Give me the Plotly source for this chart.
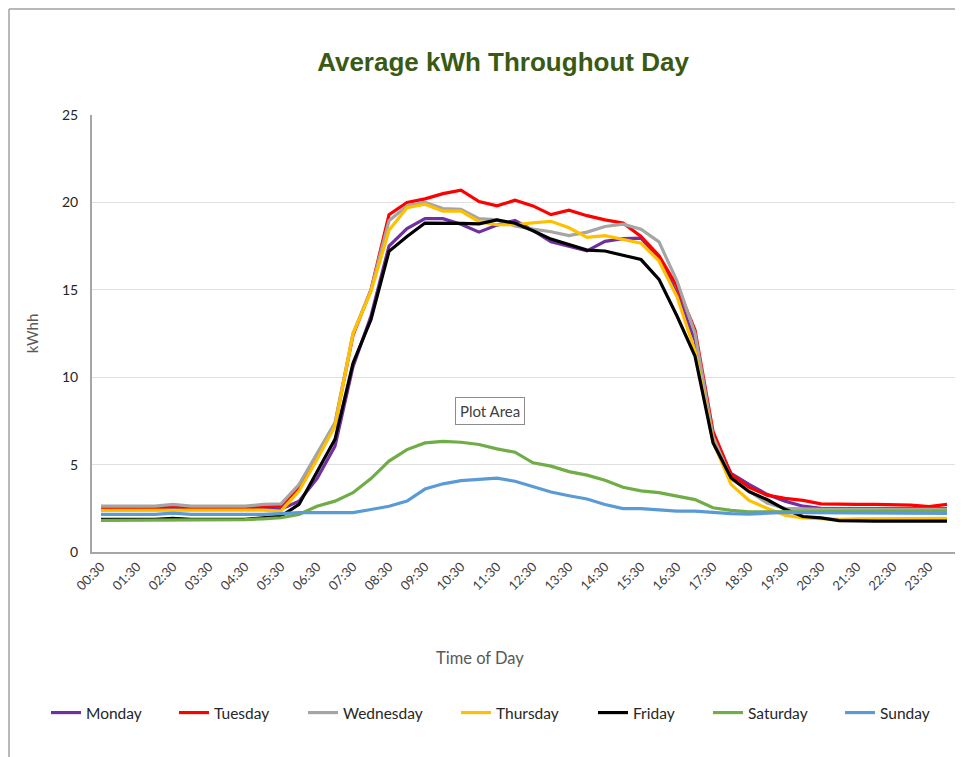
import plotly.graph_objects as go

times = ["00:30","01:00","01:30","02:00","02:30","03:00","03:30","04:00","04:30","05:00",
         "05:30","06:00","06:30","07:00","07:30","08:00","08:30","09:00","09:30","10:00",
         "10:30","11:00","11:30","12:00","12:30","13:00","13:30","14:00","14:30","15:00",
         "15:30","16:00","16:30","17:00","17:30","18:00","18:30","19:00","19:30","20:00",
         "20:30","21:00","21:30","22:00","22:30","23:00","23:30","24:00"]

tick_labels = times[0::2]

monday = [2.45,2.45,2.45,2.45,2.55,2.45,2.45,2.45,2.45,2.5,
          2.45,2.9,4.2,6.05,10.6,13.5,17.5,18.5,19.07,19.07,
          18.75,18.3,18.7,18.97,18.4,17.75,17.5,17.23,17.77,17.93,
          17.95,16.8,14.8,12.1,6.5,4.5,3.87,3.3,2.91,2.62,
          2.5,2.48,2.48,2.48,2.48,2.48,2.48,2.48]
tuesday = [2.53,2.53,2.53,2.53,2.62,2.53,2.53,2.53,2.53,2.6,
           2.62,3.7,5.5,7.3,12.4,15.0,19.3,20.0,20.2,20.5,
           20.7,20.05,19.8,20.12,19.8,19.3,19.55,19.24,19.0,18.82,
           18.05,16.95,15.2,12.7,6.9,4.45,3.7,3.25,3.07,2.95,
           2.75,2.72,2.72,2.72,2.72,2.68,2.6,2.72]
wednesday = [2.62,2.62,2.62,2.62,2.72,2.62,2.62,2.62,2.62,2.72,
             2.75,3.86,5.6,7.4,12.5,15.0,18.95,19.8,20.0,19.65,
             19.6,19.07,19.0,18.65,18.47,18.32,18.1,18.3,18.62,18.75,
             18.47,17.74,15.5,12.5,6.6,4.2,3.5,2.8,2.5,2.45,
             2.44,2.44,2.44,2.44,2.44,2.44,2.44,2.44]
thursday = [2.38,2.38,2.38,2.38,2.42,2.38,2.38,2.38,2.38,2.4,
            2.34,3.48,5.29,7.19,12.5,14.9,18.4,19.7,19.9,19.5,
            19.5,18.9,18.72,18.72,18.83,18.92,18.55,18.0,18.1,17.88,
            17.67,16.65,14.6,11.5,6.3,3.87,2.95,2.5,2.1,1.95,
            1.9,1.87,1.9,1.9,1.9,1.9,1.9,1.92]
friday = [1.87,1.87,1.87,1.87,1.92,1.87,1.87,1.87,1.87,1.95,
          2.05,2.72,4.55,6.45,10.8,13.3,17.2,18.05,18.82,18.82,
          18.8,18.77,19.0,18.81,18.38,17.9,17.58,17.27,17.22,16.98,
          16.73,15.6,13.5,11.2,6.25,4.25,3.45,3.0,2.44,2.03,
          1.95,1.8,1.77,1.77,1.77,1.77,1.77,1.77]
saturday = [1.81,1.81,1.81,1.81,1.81,1.81,1.81,1.81,1.85,1.9,
            1.96,2.15,2.62,2.91,3.39,4.2,5.2,5.86,6.24,6.33,
            6.28,6.15,5.9,5.71,5.1,4.91,4.6,4.4,4.1,3.7,
            3.5,3.4,3.2,3.0,2.53,2.38,2.3,2.3,2.3,2.3,
            2.32,2.32,2.32,2.32,2.34,2.34,2.34,2.34]
sunday = [2.15,2.15,2.15,2.15,2.22,2.15,2.15,2.15,2.15,2.15,
          2.2,2.25,2.25,2.25,2.25,2.43,2.62,2.91,3.6,3.9,
          4.08,4.15,4.22,4.05,3.72,3.43,3.22,3.03,2.72,2.48,
          2.48,2.4,2.34,2.34,2.25,2.19,2.17,2.2,2.27,2.25,
          2.25,2.25,2.25,2.25,2.25,2.25,2.22,2.21]

series = [
    ("Monday", monday, "#7030A0"),
    ("Tuesday", tuesday, "#FF0000"),
    ("Wednesday", wednesday, "#A5A5A5"),
    ("Thursday", thursday, "#FFC000"),
    ("Friday", friday, "#000000"),
    ("Saturday", saturday, "#70AD47"),
    ("Sunday", sunday, "#5B9BD5"),
]

# window-pixel geometry of the plot area (page has an 8px body margin)
PL, PR, PT, PB = 92, 956, 115, 552
PW, PH = PR - PL, PB - PT


def px(x):
    return (x - PL) / PW


def py(y):
    return (PB - y) / PH


legend_text_x = [88, 216, 345, 498, 635, 750, 882]

fig = go.Figure()
layout_legends = {}
for k, (name, vals, col) in enumerate(series):
    key = "legend" if k == 0 else f"legend{k + 1}"
    fig.add_trace(go.Scatter(x=times, y=vals, mode="lines", name=name,
                             line=dict(color=col, width=3.2), legend=key))
    layout_legends[key] = dict(x=px(legend_text_x[k] - 42), xanchor="left",
                               y=py(713), yanchor="middle",
                               font=dict(size=15.5, color="#262626"),
                               bgcolor="rgba(0,0,0,0)", borderwidth=0)

fig.update_layout(
    width=955, height=749,
    paper_bgcolor="white", plot_bgcolor="white",
    margin=dict(l=PL - 8, r=955 - (PR - 8), t=PT - 8, b=749 - (PB - 8)),
    font=dict(family="Lato, sans-serif", color="#404040"),
    title=dict(text="<b>Average kWh Throughout Day</b>", x=(503 - 8) / 955, xanchor="center",
               y=1 - (62 - 8) / 749, yanchor="middle",
               font=dict(family="Liberation Sans, Arial, sans-serif", size=26, color="#3A5A14")),
    showlegend=True,
    xaxis=dict(type="category", range=[-0.5, 47.5], tickmode="array",
               tickvals=tick_labels, ticktext=tick_labels, tickangle=-45,
               tickfont=dict(size=13, color="#404040"), showgrid=False,
               showline=True, linecolor="#A6A6A6", linewidth=2, ticks=""),
    yaxis=dict(range=[0, 25], dtick=5, tickfont=dict(size=14, color="#262626"),
               showgrid=True, gridcolor="#E0E0E0", gridwidth=1,
               showline=True, linecolor="#A6A6A6", linewidth=2, ticks="",
               zeroline=False, ticklabelstandoff=9,
               title=dict(text="kWhh", font=dict(size=15, color="#595959"), standoff=20)),
    **layout_legends,
)

# x axis title (sits left of the plot centre in the original)
fig.add_annotation(text="Time of Day", xref="paper", yref="paper",
                   x=px(480), y=py(658), xanchor="center", yanchor="middle",
                   showarrow=False, font=dict(size=16.5, color="#595959"))

fig.add_annotation(text="Plot Area", xref="paper", yref="paper",
                   x=px(490), y=py(411), xanchor="center", yanchor="middle",
                   showarrow=False,
                   font=dict(size=15, color="#404040"), bgcolor="white",
                   bordercolor="#8C8C8C", borderwidth=1, borderpad=4)

# outer chart border (top and left)
fig.add_shape(type="line", xref="paper", yref="paper",
              x0=px(9), x1=px(963), y0=py(9), y1=py(9),
              line=dict(color="#A0A0A0", width=1.5))
fig.add_shape(type="line", xref="paper", yref="paper",
              x0=px(9), x1=px(9), y0=py(9), y1=py(757),
              line=dict(color="#A0A0A0", width=1.5))

fig.write_html("out.html")
